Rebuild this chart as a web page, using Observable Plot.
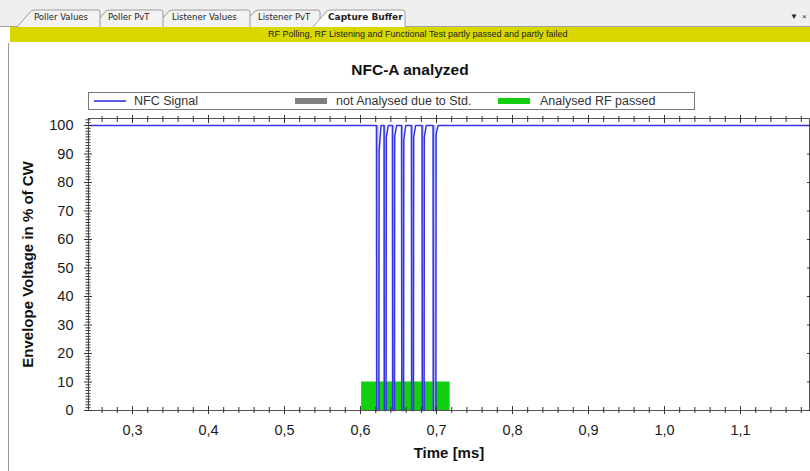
<!DOCTYPE html>
<html><head><meta charset="utf-8">
<script src="https://cdn.jsdelivr.net/npm/d3@7"></script>
<script src="https://cdn.jsdelivr.net/npm/@observablehq/plot@0.6"></script>
<style>
body{margin:0;width:810px;height:471px;overflow:hidden;background:#fff;font-family:Arial,"Liberation Sans",sans-serif;position:relative}
.abs{position:absolute}
#banner{left:10px;top:27px;width:800px;height:15px;background:#d8d800;font-size:9px;line-height:15px;color:#222}
#panelLine{left:8px;top:43px;width:1px;height:428px;background:#9a9a9a}
#title{left:0;top:61px;width:820px;text-align:center;font-weight:bold;font-size:15.5px;color:#111}
#legend{left:88px;top:92px;width:605px;height:16px;border:1px solid #7a7a7a;background:#fff;font-size:12.5px;color:#333}
#legend .t{top:0;line-height:16px;white-space:nowrap}
#chart{left:0;top:100px}
</style></head><body>
<svg class="abs" style="left:0;top:0" width="810" height="27">
  <rect x="0" y="0" width="810" height="27" fill="#efefef"/>
  <line x1="0" y1="26.5" x2="810" y2="26.5" stroke="#a0a0a0"/>
  <g id="tabs" font-family="Tahoma, 'DejaVu Sans', sans-serif" font-size="8.5"></g>
  <text x="794" y="19" font-size="8" fill="#222" text-anchor="middle">▼</text>
  <text x="802" y="19" font-size="8" fill="#222">×</text>
</svg>
<div id="banner" class="abs"><span style="position:absolute;left:258px">RF Polling, RF Listening and Functional Test partly passed and partly failed</span></div>
<div id="panelLine" class="abs"></div>
<div id="title" class="abs">NFC-A analyzed</div>
<div id="legend" class="abs">
  <div class="abs" style="left:5px;top:7px;width:32px;height:1.5px;background:#5a5ae6"></div>
  <div class="abs t" style="left:45px">NFC Signal</div>
  <div class="abs" style="left:206px;top:5px;width:32px;height:6px;background:#7f7f7f"></div>
  <div class="abs t" style="left:247px">not Analysed due to Std.</div>
  <div class="abs" style="left:409px;top:5px;width:32px;height:6px;background:#10d010"></div>
  <div class="abs t" style="left:451px">Analysed RF passed</div>
</div>
<div id="chart" class="abs"></div>
<script>
// ---- tab bar (UI chrome) ----
const tabLabels = ["Poller Values", "Poller PvT", "Listener Values", "Listener PvT", "Capture Buffer"];
const tabStartX = [17, 92, 155, 241, 313];
const tabEndX = [100, 163, 250, 320, 405];
const tabTextX = [34, 108, 172, 258, 328];
const activeTab = 4;

// ---- chart data ----
const signalStart = 0.2421;   // ms
const signalEnd = 1.1908;     // ms
const baseline = 100;         // % of CW
const pulseStart = [0.6210, 0.6310, 0.6420, 0.6540, 0.6670, 0.6810, 0.6955];
const pulseEnd   = [0.6245, 0.6340, 0.6450, 0.6570, 0.6700, 0.6840, 0.6995];
const recoverLevel = [91, 96, 96, 95, 96, 96, 97];
const analysedStart = 0.6015, analysedEnd = 0.7180, analysedLevel = 10;
const xTicks = [0.3, 0.4, 0.5, 0.6, 0.7, 0.8, 0.9, 1.0, 1.1];
const yTicks = [0, 10, 20, 30, 40, 50, 60, 70, 80, 90, 100];
const xLabel = "Time [ms]";
const yLabel = "Envelope Voltage in % of CW";

// tabs
const g = document.getElementById("tabs");
const ns = "http://www.w3.org/2000/svg";
const order = [3, 2, 1, 0, 4];
for (const i of order) {
  const p = document.createElementNS(ns, "path");
  const xs = tabStartX[i], xe = tabEndX[i];
  p.setAttribute("d", `M${xs},27 L${xs + 14},11 Q${xs+16},10 ${xs+18},10 L${xe - 2},10 Q${xe},10 ${xe},12 L${xe},27`);
  p.setAttribute("fill", i === activeTab ? "#ffffff" : "#f3f3f3");
  p.setAttribute("stroke", "#9a9a9a");
  g.appendChild(p);
  const t = document.createElementNS(ns, "text");
  t.setAttribute("x", tabTextX[i]);
  t.setAttribute("y", 20);
  t.setAttribute("fill", "#222");
  if (i === activeTab) { t.setAttribute("font-weight", "bold"); t.setAttribute("font-size", "9"); }
  t.textContent = tabLabels[i];
  g.appendChild(t);
}

// signal points
const pts = [{t: signalStart, v: baseline}];
pulseStart.forEach((s, i) => {
  const e = pulseEnd[i];
  pts.push({t: s, v: baseline});
  pts.push({t: s + 0.0003, v: 0});
  pts.push({t: e - 0.0003, v: 0});
  pts.push({t: e, v: recoverLevel[i]});
  pts.push({t: e + 0.0025, v: baseline});
});
pts.push({t: signalEnd, v: baseline});
const pulses = pulseStart.map((s, i) => ({s, e: pulseEnd[i]}));

const xMinor = d3.range(13, 60).map(i => i / 50).filter(d => Math.abs(d * 10 - Math.round(d * 10)) > 1e-6);
const yMinor = d3.range(0, 103).filter(d => d % 10 !== 0);
const tk = {stroke: "#333", label: null, fill: "none"};

const chart = Plot.plot({
  width: 810,
  height: 371,
  marginLeft: 88,
  marginRight: 1,
  marginTop: 18,
  marginBottom: 61,
  style: {fontFamily: "Arial, 'Liberation Sans', sans-serif", background: "transparent", overflow: "visible", color: "#1a1a1a"},
  x: {domain: [signalStart, signalEnd]},
  y: {domain: [0, 102.46]},
  marks: [
    Plot.rect([{x1: analysedStart, x2: analysedEnd, y2: analysedLevel}], {x1: "x1", x2: "x2", y1: 0, y2: "y2", fill: "#10d010"}),
    Plot.rect(pulses, {x1: "s", x2: "e", y1: 0, y2: baseline, fill: "#a9aef2", fillOpacity: 0.85}),
    Plot.line(pts, {x: "t", y: "v", stroke: "#3434e0", strokeWidth: 1.5}),
    Plot.frame({stroke: "#555"}),
    // bottom
    Plot.axisX(xTicks, {...tk, anchor: "bottom", tickSize: 8, dy: -4}),
    Plot.axisX(xMinor, {...tk, anchor: "bottom", tickSize: 6, dy: -3}),
    Plot.axisX(xTicks, {anchor: "bottom", tickSize: 0, tickPadding: 14, fontSize: 14.5, label: null, tickFormat: d => d.toFixed(1).replace(".", ",")}),
    // top
    Plot.axisX(xTicks, {...tk, anchor: "top", tickSize: 8, dy: 4}),
    Plot.axisX(xMinor, {...tk, anchor: "top", tickSize: 6, dy: 3}),
    // left
    Plot.axisY(yTicks, {...tk, anchor: "left", tickSize: 8, dx: 4}),
    Plot.axisY(yMinor, {...tk, anchor: "left", tickSize: 5, dx: 2.5}),
    Plot.axisY(yTicks, {anchor: "left", tickSize: 0, tickPadding: 15, fontSize: 14.5, label: null}),
    // right
    Plot.axisY(yTicks, {...tk, anchor: "right", tickSize: 6, dx: -3}),
    // axis titles
    Plot.text([xLabel], {frameAnchor: "bottom", text: d => d, dy: 47, fontWeight: "bold", fontSize: 15, fill: "#111"}),
    Plot.text([yLabel], {frameAnchor: "left", text: d => d, rotate: -90, dx: -60, textAnchor: "middle", fontWeight: "bold", fontSize: 15, fill: "#111"})
  ]
});
document.getElementById("chart").appendChild(chart);
</script>
</body></html>
